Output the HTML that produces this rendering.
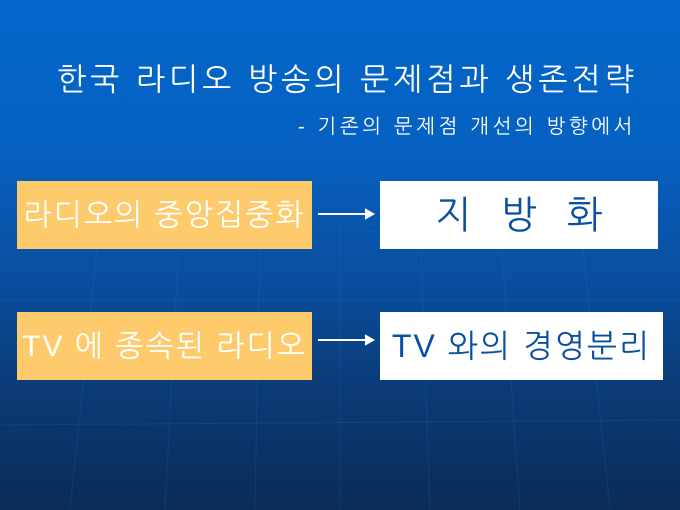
<!DOCTYPE html>
<html><head><meta charset="utf-8"><style>
html,body{margin:0;padding:0}
body{width:680px;height:510px;overflow:hidden;position:relative;
background:linear-gradient(to bottom,#0468cc 0%,#0560c0 30%,#0a4e9e 55%,#0b3c78 75%,#0a2c58 100%);
font-family:"Liberation Sans","NanumGothic","Noto Sans CJK KR",sans-serif}
.t{position:absolute;white-space:nowrap;color:#fff}
.box{position:absolute;display:flex;align-items:center;justify-content:center;white-space:nowrap}
.o{background:#fecb6c;color:#fff;font-size:30px;letter-spacing:2px}
.w{background:#fff;color:#0a4fa0}
</style></head><body>
<svg style="position:absolute;left:0;top:0" width="680" height="510">
<g stroke="#3a7fd0" stroke-opacity="0.18" stroke-width="1" fill="none">
<path d="M0 300 L680 300"/><path d="M0 425 L680 420"/><path d="M0 230 L680 232"/>
<path d="M100 220 L70 510"/><path d="M180 220 L165 510"/><path d="M260 220 L255 510"/><path d="M340 220 L340 510"/><path d="M420 220 L430 510"/><path d="M500 220 L520 510"/><path d="M580 220 L610 510"/>
</g>
<g stroke="#fff" stroke-width="2" fill="#fff">
<line x1="318" y1="214" x2="368" y2="214"/><polygon points="366,210 373,214 366,218"/>
<line x1="318" y1="340" x2="368" y2="340"/><polygon points="366,336 373,340 366,344"/>
</g>
</svg>
<div class="t" style="left:57px;top:60px;font-size:31px;letter-spacing:4px">한국 라디오 방송의 문제점과 생존전략</div>
<div class="t" style="left:298px;top:114px;font-size:20px;letter-spacing:3.6px">- 기존의 문제점 개선의 방향에서</div>
<div class="box o" style="left:17px;top:181px;width:295px;height:68px">라디오의 중앙집중화</div>
<div class="box w" style="left:380px;top:181px;width:278px;height:68px;font-size:38px;letter-spacing:30px;padding-left:30px;box-sizing:border-box">지방화</div>
<div class="box o" style="left:17px;top:312px;width:295px;height:68px">TV 에 종속된 라디오</div>
<div class="box w" style="left:380px;top:312px;width:283px;height:68px;font-size:32px;letter-spacing:2px">TV 와의 경영분리</div>
</body></html>
